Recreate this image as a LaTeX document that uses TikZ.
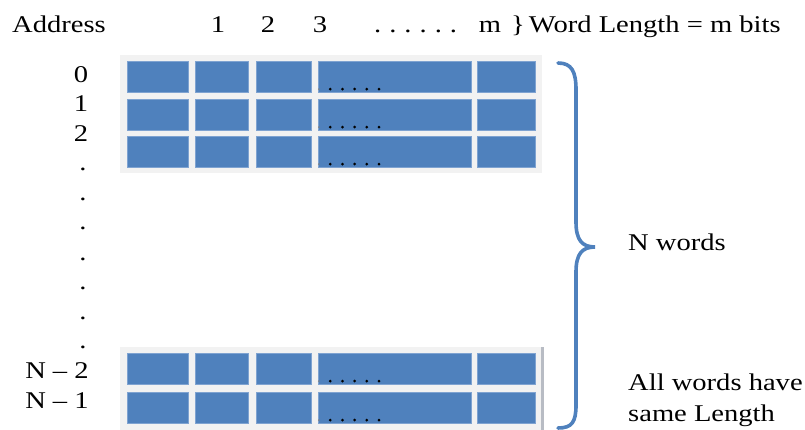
\documentclass[tikz,border=0pt]{standalone}
\usepackage{fontspec}
\setmainfont{Liberation Serif}[FakeStretch=1.19]
\usetikzlibrary{calc}
\definecolor{cellblue}{HTML}{4F81BD}
\definecolor{celledge}{HTML}{7FA3D1}
\definecolor{panel}{HTML}{F2F2F2}
\definecolor{paneledge}{HTML}{B8BCC4}
\begin{document}
\begin{tikzpicture}[x=1pt,y=-1pt,
  cell/.style={fill=cellblue, draw=celledge, line width=0.6pt, inner sep=0pt, anchor=north west},
  lbl/.style={font=\fontsize{24}{28}\selectfont, inner sep=0pt},
  brace/.style={draw=cellblue, line width=3.6pt, line cap=round},
  bigdot/.style={fill=black, circle, inner sep=0pt, minimum size=3pt}]
\useasboundingbox (0,0) rectangle (805,430);
% panels
\fill[panel] (120,55) rectangle (542,173);
\fill[panel] (120,347) rectangle (542,430);
\fill[paneledge] (541,347) rectangle (543.5,430);
% cells
\foreach \r/\top in {a/61,b/99,c/136,d/353,e/392}{
  \foreach \c/\xl/\xr in {1/127/188,2/195/248,3/256/311,4/318/471,5/477/535}{
    \pgfmathsetmacro{\w}{\xr-\xl}
    \node[cell, minimum width=\w pt, minimum height=31pt] (\r\c) at (\xl,\top) {};
  }
  \foreach \k in {1,...,5}{
    \node[bigdot] (dot\r\k) at ($(\r4.south west)+(\k*12.2,-3.5)$) {};
  }
  \node[bigdot, minimum size=1.8pt, fill=black!50] (dot\r0) at ($(\r4.south west)+(0.8,-3.5)$) {};
}
% header
\node[lbl, anchor=base west] (addr) at (12,33) {Address};
\node[lbl, anchor=base] (h1) at (218,33) {1};
\node[lbl, anchor=base] (h2) at (268,33) {2};
\node[lbl, anchor=base] (h3) at (320,33) {3};
\node[lbl, anchor=base west] (hd) at (374,33) {.\,\,.\,\,.\,\,.\,\,.\,\,.};
\node[lbl, anchor=base] (hm) at (490,33) {m};
\node[lbl, anchor=base west] (hw) at (511,33) {\}\,Word Length = m bits};
% addresses
\node[lbl, anchor=base] (ad0) at (81,83) {0};
\node[lbl, anchor=base] (ad1) at (81,112) {1};
\node[lbl, anchor=base] (ad2) at (81,142) {2};
\foreach \i/\y in {1/169,2/199,3/228,4/258,5/287,6/317,7/346}{
  \node[lbl, anchor=base] (vd\i) at (83,\y+2) {.};
}
\node[lbl, anchor=base] (adn2) at (57,378) {N – 2};
\node[lbl, anchor=base] (adn1) at (57,408) {N – 1};
% brace
\coordinate (bt) at (558,63);
\coordinate (bm) at (595,247);
\coordinate (bb) at (558,428);
\draw[brace] (bt) .. controls (572,63) and (576,72) .. (576,90) -- (576,222)
  .. controls (576,240) and (582,247) .. (bm)
  .. controls (582,247) and (576,254) .. (576,272) -- (576,405)
  .. controls (576,422) and (572,428) .. (bb);
\node[lbl, anchor=base west] (nw) at (628,251) {N words};
\node[lbl, anchor=base west] (aw) at (628,390) {All words have};
\node[lbl, anchor=base west] (sl) at (628,421) {same Length};
\end{tikzpicture}
\end{document}
